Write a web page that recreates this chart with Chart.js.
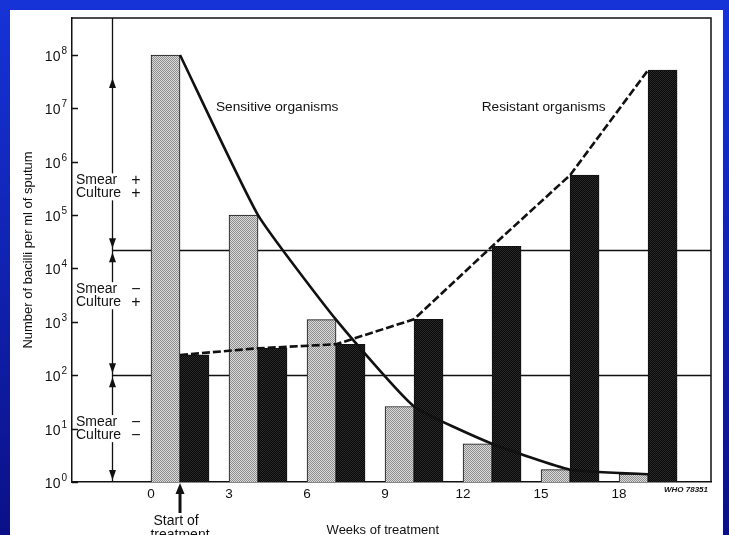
<!DOCTYPE html>
<html>
<head>
<meta charset="utf-8">
<script src="https://cdn.jsdelivr.net/npm/chart.js@4.4.1/dist/chart.umd.min.js"></script>
<style>
  html, body { margin: 0; padding: 0; }
  body {
    width: 729px; height: 535px; overflow: hidden; position: relative;
    background: linear-gradient(to bottom, #1633d8 0%, #1124b4 45%, #0b1088 100%);
  }
  #panel { position: absolute; left: 10px; top: 10px; width: 713px; height: 525px; background: #fff; }
  canvas { display: block; }
</style>
</head>
<body>
<div id="panel"><canvas id="chart" width="713" height="525"></canvas></div>
<script>
// weeks of treatment, bacilli per ml of sputum
const weeks = [0, 3, 6, 9, 12, 15, 18]
const sensitive = [1e8, 1e5, 1.1e3, 26, 5.2, 1.7, 1.4]
const resistant = [240, 320, 380, 1.12e3, 2.6e4, 5.6e5, 5.2e7]

const xTickLabels = ['0', '3', '6', '9', '12', '15', '18']
const yTicks = [1, 10, 100, 1e3, 1e4, 1e5, 1e6, 1e7, 1e8]
const yTickLabels = ['10⁰', '10¹', '10²', '10³', '10⁴', '10⁵', '10⁶', '10⁷', '10⁸']

// smear / culture zone limits
const thresholds = [2.2e4, 100]
const zoneLabels = [
  [['Smear', '+'], ['Culture', '+']],
  [['Smear', '−'], ['Culture', '+']],
  [['Smear', '−'], ['Culture', '−']]
]

const ink = '#111'
const family = '"Liberation Sans", Arial, Helvetica, sans-serif'
Chart.defaults.font.family = family
Chart.defaults.color = ink

function stipple (a, b) {
  const c = document.createElement('canvas')
  c.width = 2
  c.height = 2
  const g = c.getContext('2d')
  g.fillStyle = a
  g.fillRect(0, 0, 2, 2)
  g.fillStyle = b
  g.fillRect(0, 0, 1, 1)
  g.fillRect(1, 1, 1, 1)
  return g.createPattern(c, 'repeat')
}
const lightFill = stipple('#dadada', '#8e8e8e')
const darkFill = stipple('#080808', '#2a2a2a')

const zoneLabelAt = [10 ** 5.53, 10 ** 3.49, 10 ** 1.0]
const sups = '⁰¹²³⁴⁵⁶⁷⁸⁹'

const notes = {
  id: 'notes',
  beforeDatasetsDraw (chart) {
    const { ctx, chartArea: a, scales: { x, y } } = chart
    const ax = Math.round(x.getPixelForValue(-2.62)) + 0.5
    ctx.save()
    ctx.strokeStyle = ink
    ctx.fillStyle = ink
    ctx.lineWidth = 1.3
    ctx.beginPath()
    thresholds.forEach(t => {
      const py = Math.round(y.getPixelForValue(t)) + 0.5
      ctx.moveTo(ax, py)
      ctx.lineTo(a.right, py)
    })
    ctx.moveTo(ax, a.top)
    ctx.lineTo(ax, a.bottom)
    ctx.stroke()

    // arrow heads on the zone line
    const t1 = y.getPixelForValue(thresholds[0])
    const t2 = y.getPixelForValue(thresholds[1])
    const heads = [[y.getPixelForValue(3.7e7), -1], [t1 - 2, 1], [t1 + 2, -1], [t2 - 2, 1], [t2 + 2, -1], [a.bottom - 2, 1]]
    heads.forEach(([tip, dir]) => {
      ctx.beginPath()
      ctx.moveTo(ax, tip)
      ctx.lineTo(ax - 3.5, tip - dir * 10)
      ctx.lineTo(ax + 3.5, tip - dir * 10)
      ctx.closePath()
      ctx.fill()
    })

    // zone labels
    ctx.textBaseline = 'middle'
    zoneLabels.forEach((pair, k) => {
      const cy = y.getPixelForValue(zoneLabelAt[k])
      pair.forEach(([word, sign], j) => {
        const ty = cy + (j - 0.5) * 13
        const tx = a.left + 4
        ctx.font = `14px ${family}`
        ctx.fillStyle = '#fff'
        ctx.fillRect(tx - 1, ty - 7, ctx.measureText(word).width + 3, 14)
        ctx.fillStyle = ink
        ctx.textAlign = 'left'
        ctx.fillText(word, tx, ty)
        ctx.textAlign = 'center'
        ctx.font = `16px ${family}`
        ctx.fillText(sign, tx + 60, ty)
      })
    })
    ctx.restore()
  },
  afterDraw (chart) {
    const { ctx, chartArea: a, scales: { x, y } } = chart
    ctx.save()
    ctx.strokeStyle = ink
    ctx.fillStyle = ink
    ctx.lineWidth = 1.5
    ctx.beginPath()
    ctx.moveTo(a.left, a.top)
    ctx.lineTo(a.right, a.top)
    ctx.lineTo(a.right, a.bottom)
    // inward tick marks on the value axis
    y.ticks.forEach(t => {
      const py = Math.round(y.getPixelForValue(t.value)) + 0.5
      ctx.moveTo(a.left, py)
      ctx.lineTo(a.left + 6, py)
    })
    ctx.stroke()

    // value axis labels: base with raised exponent
    ctx.textBaseline = 'alphabetic'
    y.ticks.forEach((t, i) => {
      const py = y.getPixelForValue(t.value)
      const label = yTickLabels[i]
      const base = label.slice(0, 2)
      const exp = String(sups.indexOf(label.slice(2)))
      ctx.font = `10px ${family}`
      const ew = ctx.measureText(exp).width
      ctx.textAlign = 'left'
      ctx.fillText(exp, a.left - 5 - ew, py - 1)
      ctx.font = `14px ${family}`
      ctx.textAlign = 'right'
      ctx.fillText(base, a.left - 6 - ew, py + 6)
    })

    // start of treatment arrow
    const sx = x.getPixelForValue(0)
    ctx.fillRect(sx - 1.5, a.bottom + 11, 3, 20)
    ctx.beginPath()
    ctx.moveTo(sx, a.bottom + 1)
    ctx.lineTo(sx - 4.5, a.bottom + 12)
    ctx.lineTo(sx + 4.5, a.bottom + 12)
    ctx.closePath()
    ctx.fill()

    ctx.textAlign = 'center'
    ctx.textBaseline = 'alphabetic'
    ctx.font = `14px ${family}`
    ctx.fillText('Start of', sx - 4, a.bottom + 43)
    ctx.fillText('treatment', sx, a.bottom + 57)
    ctx.font = `13px ${family}`
    ctx.fillText('Weeks of treatment', x.getPixelForValue(7.8), a.bottom + 52)

    ctx.textAlign = 'right'
    ctx.font = `italic bold 8px ${family}`
    ctx.fillText('WHO 78351', a.right - 3, a.bottom + 10)

    ctx.textAlign = 'left'
    ctx.textBaseline = 'middle'
    ctx.font = `13.7px ${family}`
    ctx.fillText('Sensitive organisms', x.getPixelForValue(1.38), y.getPixelForValue(1.05e7))
    ctx.fillText('Resistant organisms', x.getPixelForValue(11.6), y.getPixelForValue(1.05e7))
    ctx.restore()
  }
}

const pts = vals => weeks.map((w, i) => ({ x: w, y: vals[i] }))

new Chart(document.getElementById('chart'), {
  type: 'bar',
  data: {
    datasets: [
      {
        type: 'line',
        label: 'Sensitive organisms',
        data: pts(sensitive),
        borderColor: ink,
        borderWidth: 2.6,
        pointRadius: 0,
        tension: 0.15,
        order: 0
      },
      {
        type: 'line',
        label: 'Resistant organisms',
        data: pts(resistant),
        borderColor: ink,
        borderWidth: 2.6,
        borderDash: [8, 3],
        pointRadius: 0,
        tension: 0,
        order: 0
      },
      {
        label: 'Sensitive',
        data: pts(sensitive),
        backgroundColor: lightFill,
        borderColor: ink,
        borderWidth: 1,
        barThickness: 29,
        order: 1
      },
      {
        label: 'Resistant',
        data: pts(resistant),
        backgroundColor: darkFill,
        borderColor: ink,
        borderWidth: 1,
        barThickness: 29,
        order: 1
      }
    ]
  },
  options: {
    responsive: false,
    animation: false,
    devicePixelRatio: 1,
    layout: { padding: { left: 0, top: 8, right: 12, bottom: 0 } },
    plugins: { legend: { display: false }, tooltip: { enabled: false } },
    scales: {
      x: {
        type: 'linear',
        min: -4.154,
        max: 20.42,
        offset: false,
        grid: { display: false, drawTicks: false, offset: false },
        border: { color: ink, width: 1.5 },
        afterBuildTicks: s => { s.ticks = weeks.map(v => ({ value: v })) },
        ticks: {
          callback: (v, i) => xTickLabels[i],
          labelOffset: -29,
          padding: 4,
          autoSkip: false,
          maxRotation: 0,
          color: ink,
          font: { size: 13.5 }
        },
        afterFit: s => { s.height = 53 }
      },
      y: {
        type: 'logarithmic',
        min: 1,
        max: 4.93e8,
        grid: { display: false, drawTicks: false },
        border: { color: ink, width: 1.5 },
        afterBuildTicks: s => { s.ticks = yTicks.map(v => ({ value: v })) },
        ticks: { display: false, autoSkip: false },
        title: {
          display: true,
          text: 'Number of bacilli per ml of sputum',
          padding: { top: 11, bottom: 0 },
          color: ink,
          font: { size: 13 }
        },
        afterFit: s => { s.width = 62 }
      }
    }
  },
  plugins: [notes]
})
</script>
</body>
</html>
